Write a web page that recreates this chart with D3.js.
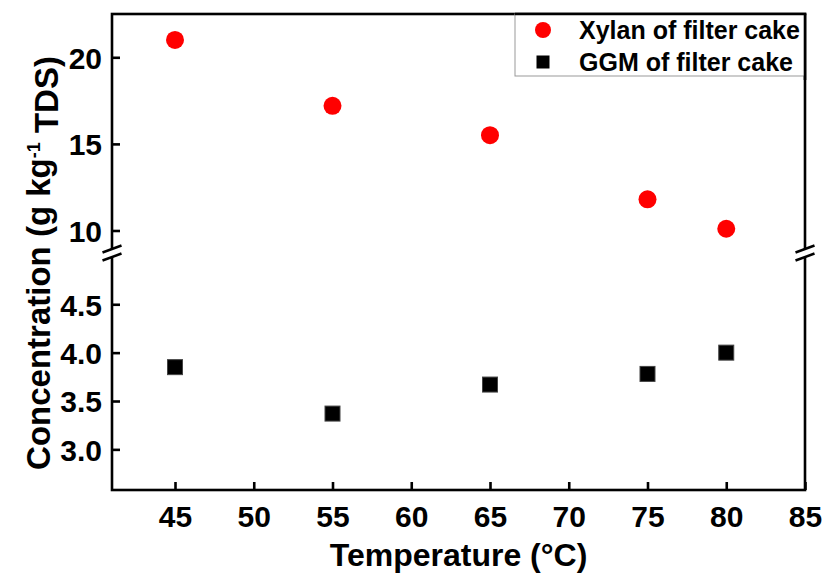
<!DOCTYPE html>
<html>
<head>
<meta charset="utf-8">
<script src="https://cdn.jsdelivr.net/npm/d3@7"></script>
<style>
  html, body { margin: 0; padding: 0; background: #fff; }
  svg { display: block; }
  text { font-family: "Liberation Sans", Arial, sans-serif; font-weight: bold; fill: #000; }
</style>
</head>
<body>
<svg id="chart" width="824" height="573"></svg>
<script>
// Temperatures of the filter cake runs (°C)
const temperatures = [45, 55, 65, 75, 80];
// Xylan content of filter cake (g kg-1 TDS)
const xylanValues = [21.0, 17.2, 15.5, 11.8, 10.1];
// GGM content of filter cake (g kg-1 TDS)
const ggmValues = [3.85, 3.37, 3.67, 3.78, 4.0];

const xTicks = [45, 50, 55, 60, 65, 70, 75, 80, 85];
const yUpperTicks = [10, 15, 20];
const yLowerTicks = [3.0, 3.5, 4.0, 4.5];

const seriesNames = ["Xylan of filter cake", "GGM of filter cake"];

(function draw() {
const svg = d3.select("#chart");
const plotL = 112, plotR = 805, plotT = 14, plotB = 490;
const breakY = 253;

const x = d3.scaleLinear().domain([41, 85]).range([plotL, plotR]);
// broken y axis: two stacked linear segments
const yUp = d3.scaleLinear().domain([8.7, 22.5]).range([breakY, plotT]);
const yLow = d3.scaleLinear().domain([2.58, 5.03]).range([plotB, breakY]);

const axisW = 2.6;
const tickLen = 8;

// frame
svg.append("rect")
  .attr("x", plotL).attr("y", plotT)
  .attr("width", plotR - plotL).attr("height", plotB - plotT)
  .attr("fill", "none").attr("stroke", "#000").attr("stroke-width", axisW);

// bottom axis (ticks pointing inward)
const xAxis = d3.axisBottom(x).tickValues(xTicks).tickSizeInner(-tickLen).tickSizeOuter(0).tickPadding(16);
const gx = svg.append("g").attr("transform", `translate(0,${plotB})`).call(xAxis);
gx.select(".domain").remove();
gx.selectAll(".tick line").attr("stroke", "#000").attr("stroke-width", axisW);
gx.selectAll(".tick text").style("font-size", "30px").attr("dy", "0.71em");

// left axis, upper and lower segments
function leftAxis(scale, ticks, fmt) {
  const a = d3.axisLeft(scale).tickValues(ticks).tickFormat(fmt)
    .tickSizeInner(-tickLen).tickSizeOuter(0).tickPadding(10);
  const g = svg.append("g").attr("transform", `translate(${plotL},0)`).call(a);
  g.select(".domain").remove();
  g.selectAll(".tick line").attr("stroke", "#000").attr("stroke-width", axisW);
  g.selectAll(".tick text").style("font-size", "30px").attr("dy", "0.36em");
  return g;
}
leftAxis(yUp, yUpperTicks, d3.format("d"));
leftAxis(yLow, yLowerTicks, d3.format(".1f"));

// axis break marks on both vertical sides
function breakMark(cx) {
  const g = svg.append("g");
  g.append("rect").attr("x", cx - 3).attr("y", breakY - 4)
    .attr("width", 6).attr("height", 8).attr("fill", "#fff");
  [-4, 4].forEach(off => {
    g.append("line")
      .attr("x1", cx - 9.5).attr("y1", breakY + off + 3.5)
      .attr("x2", cx + 9.5).attr("y2", breakY + off - 3.5)
      .attr("stroke", "#000").attr("stroke-width", 2.4);
  });
}
breakMark(plotL);
breakMark(plotR);

// data marks
const xylan = temperatures.map((t, i) => ({t, v: xylanValues[i]}));
const ggm = temperatures.map((t, i) => ({t, v: ggmValues[i]}));

svg.append("g").selectAll("circle").data(xylan).join("circle")
  .attr("cx", d => x(d.t)).attr("cy", d => yUp(d.v))
  .attr("r", 9).attr("fill", "#ff0000");

const sq = 15;
svg.append("g").selectAll("rect").data(ggm).join("rect")
  .attr("x", d => x(d.t) - sq / 2).attr("y", d => yLow(d.v) - sq / 2)
  .attr("width", sq).attr("height", sq)
  .attr("fill", "#000").attr("stroke", "#444").attr("stroke-width", 1);

// legend
const lg = svg.append("g");
lg.append("rect").attr("x", 515).attr("y", plotT).attr("width", plotR - 515).attr("height", 76 - plotT)
  .attr("fill", "#fff").attr("stroke", "#999").attr("stroke-width", 1);
lg.append("circle").attr("cx", 543).attr("cy", 30).attr("r", 8).attr("fill", "#ff0000");
lg.append("rect").attr("x", 543 - 6.5).attr("y", 62 - 6.5).attr("width", 13).attr("height", 13).attr("fill", "#000");
lg.selectAll("text").data(seriesNames).join("text")
  .attr("x", 579).attr("y", (d, i) => 30 + i * 32).attr("dy", "0.36em")
  .style("font-size", "25px").text(d => d);
// top and right frame edges over the legend box
svg.append("line").attr("x1", 515).attr("x2", plotR + axisW / 2).attr("y1", plotT).attr("y2", plotT)
  .attr("stroke", "#000").attr("stroke-width", axisW);
svg.append("line").attr("x1", plotR).attr("x2", plotR).attr("y1", plotT).attr("y2", 80)
  .attr("stroke", "#000").attr("stroke-width", axisW);

// axis titles
svg.append("text").attr("x", (plotL + plotR) / 2).attr("y", 566)
  .attr("text-anchor", "middle").style("font-size", "32px")
  .text("Temperature (°C)");

const yt = svg.append("text")
  .attr("transform", `translate(50,${(plotT + plotB) / 2 + 11}) rotate(-90)`)
  .attr("text-anchor", "middle").style("font-size", "33px");
yt.append("tspan").text("Concentration (g kg");
yt.append("tspan").attr("dy", "-0.55em").style("font-size", "18px").text("-1");
yt.append("tspan").attr("dy", "0.55em").text(" TDS)");
})();
</script>
</body>
</html>
